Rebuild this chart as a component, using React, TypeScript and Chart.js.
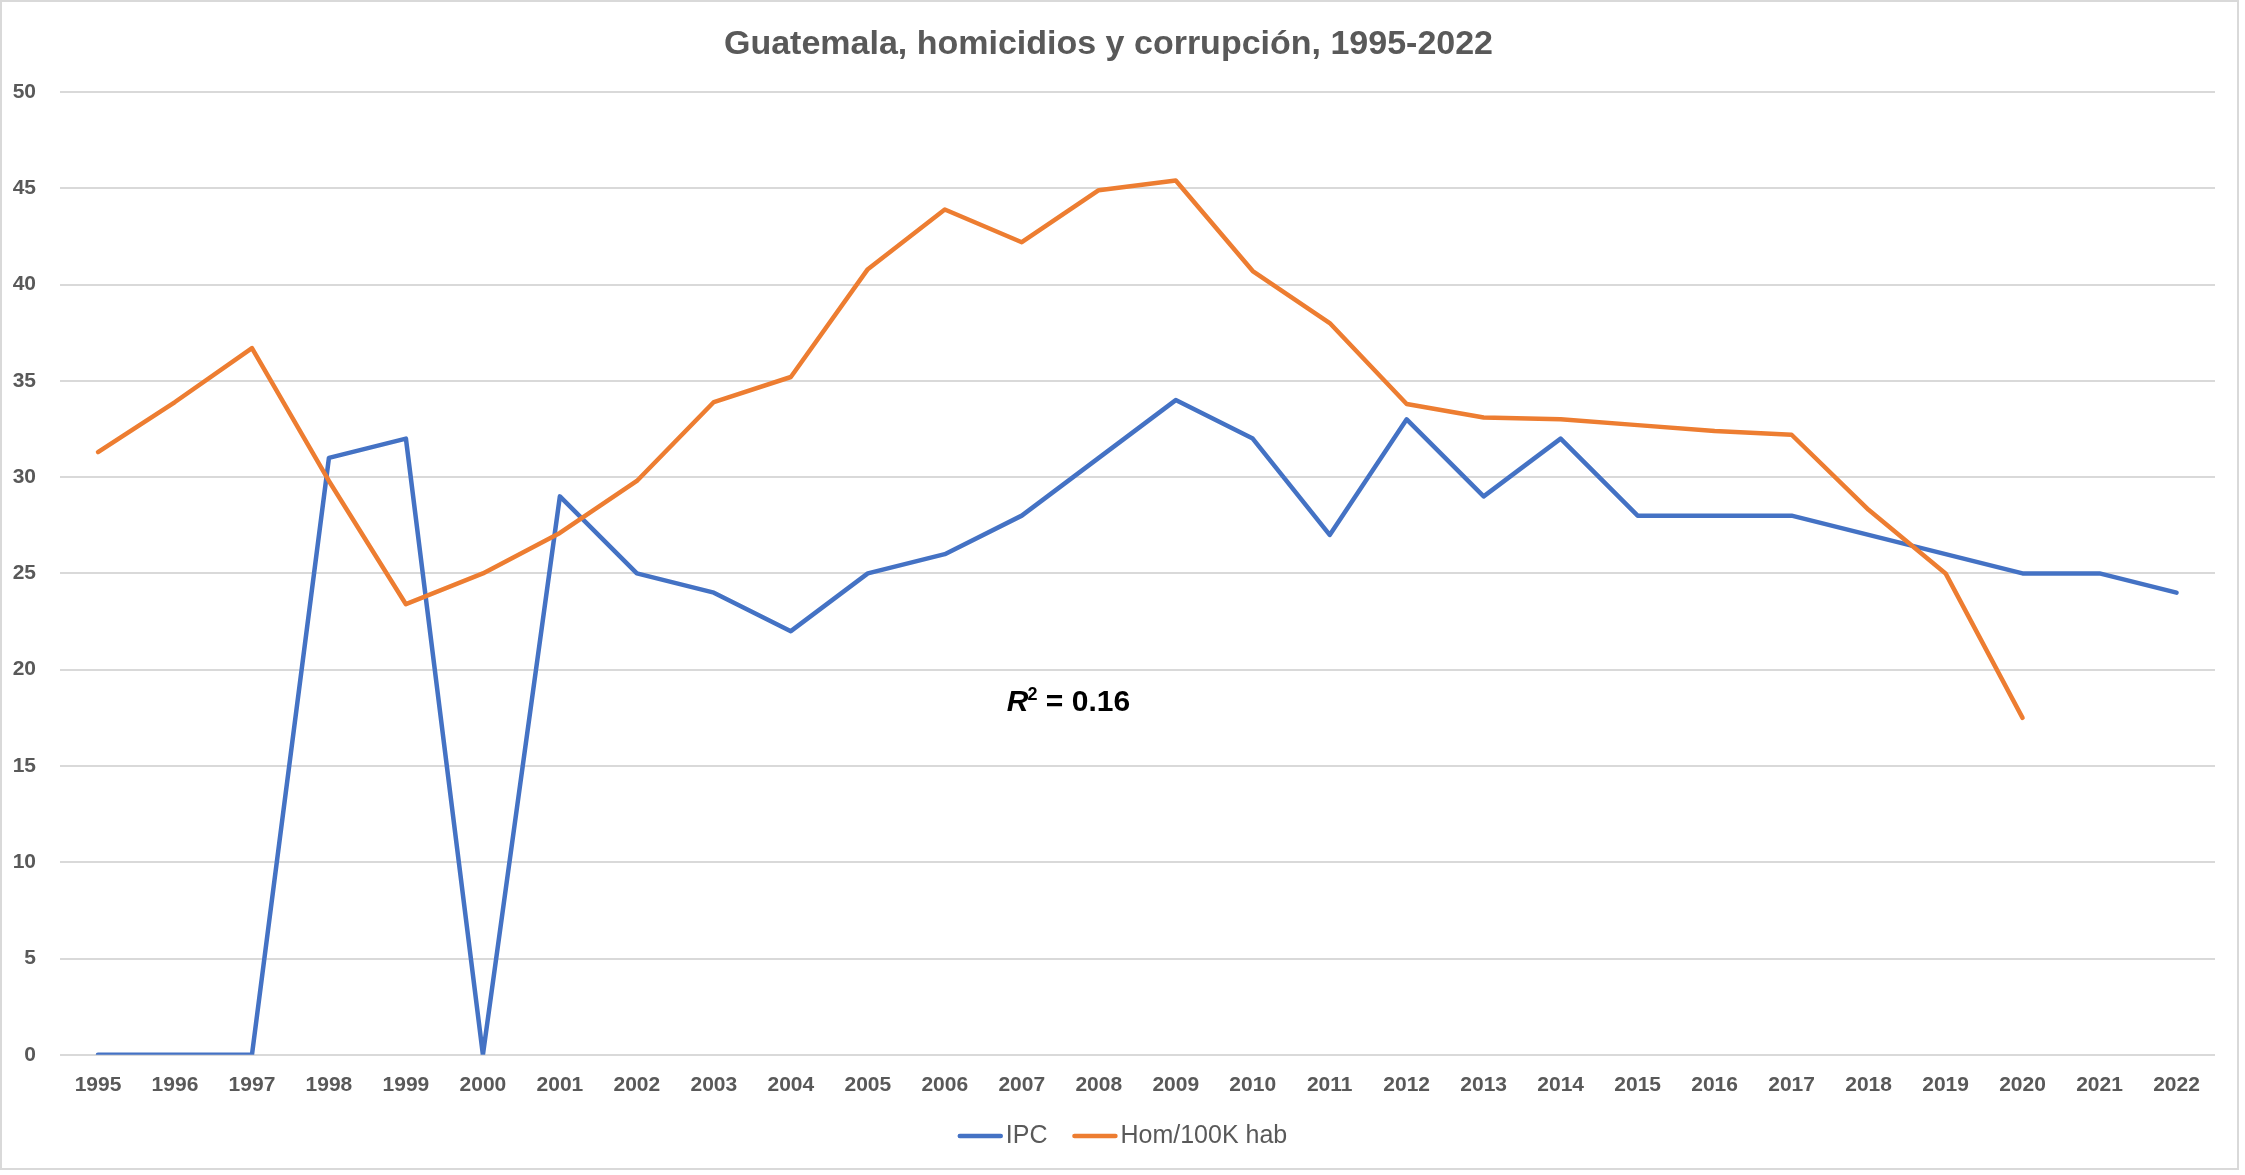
import { useEffect, useRef } from "react";
import { Chart, registerables } from "chart.js";

Chart.register(...registerables);

// Years on the category axis
const years = [
  "1995", "1996", "1997", "1998", "1999", "2000", "2001", "2002", "2003", "2004",
  "2005", "2006", "2007", "2008", "2009", "2010", "2011", "2012", "2013", "2014",
  "2015", "2016", "2017", "2018", "2019", "2020", "2021", "2022",
];

// Índice de Percepción de la Corrupción (escala 0-100)
const ipc = [
  0, 0, 0, 31, 32, 0, 29, 25, 24, 22,
  25, 26, 28, 31, 34, 32, 27, 33, 29, 32,
  28, 28, 28, 27, 26, 25, 25, 24,
];

// Homicidios por cada 100 mil habitantes
const homicidios = [
  31.3, 33.9, 36.7, 29.8, 23.4, 25.0, 27.1, 29.8, 33.9, 35.2,
  40.8, 43.9, 42.2, 44.9, 45.4, 40.7, 38.0, 33.8, 33.1, 33.0,
  32.7, 32.4, 32.2, 28.3, 25.0, 17.5, null, null,
];

const seriesNames = ["IPC", "Hom/100K hab"];
const seriesColors = ["#4472C4", "#ED7D31"];

const yMin = 0;
const yMax = 50;
const yStep = 5;

const titleText = "Guatemala, homicidios y corrupción, 1995-2022";
const r2Text = "0.16";

const SANS = '"Liberation Sans", Arial, sans-serif';
const TEXT_GREY = "#595959";
const GRID_GREY = "#D9D9D9";

// Draws the R² note and the line-style legend under the axis
const overlayPlugin = {
  id: "overlay",
  afterDraw(chart: any) {
    const { ctx, chartArea } = chart;
    const yScale = chart.scales.y;
    ctx.save();

    // R² = 0.16
    const baseY = yScale.getPixelForValue(17.85);
    let x = chartArea.left + (chartArea.right - chartArea.left) * 0.4395;
    ctx.fillStyle = "#000000";
    ctx.textBaseline = "alphabetic";
    ctx.textAlign = "left";
    ctx.font = `italic bold 30px ${SANS}`;
    ctx.fillText("R", x, baseY);
    x += ctx.measureText("R").width - 1;
    ctx.font = `bold 18px ${SANS}`;
    ctx.fillText("2", x, baseY - 11);
    x += ctx.measureText("2").width;
    ctx.font = `bold 30px ${SANS}`;
    ctx.fillText(" = " + r2Text, x, baseY);

    // Legend
    const lineW = 45;
    const gapText = 3;
    const gapItem = 25;
    ctx.font = `25px ${SANS}`;
    const items = chart.data.datasets.map((ds: any) => ({
      label: ds.label as string,
      color: ds.borderColor as string,
      w: ctx.measureText(ds.label).width,
    }));
    const total =
      items.reduce((s: number, it: any) => s + lineW + gapText + it.w, 0) +
      gapItem * (items.length - 1);
    let lx = chart.width / 2 - total / 2 + 3;
    const ly = chart.height - 32;
    ctx.textBaseline = "middle";
    items.forEach((it: any) => {
      ctx.strokeStyle = it.color;
      ctx.lineWidth = 4.5;
      ctx.lineCap = "round";
      ctx.beginPath();
      ctx.moveTo(lx + 2, ly);
      ctx.lineTo(lx + lineW - 2, ly);
      ctx.stroke();
      lx += lineW + gapText;
      ctx.fillStyle = TEXT_GREY;
      ctx.fillText(it.label, lx, ly);
      lx += it.w + gapItem;
    });

    ctx.restore();
  },
};

export default function App() {
  const canvasRef = useRef<HTMLCanvasElement | null>(null);

  useEffect(() => {
    document.body.style.margin = "0";
    const canvas = canvasRef.current;
    if (!canvas) return;

    const chart = new Chart(canvas, {
      type: "line",
      data: {
        labels: years,
        datasets: [
          {
            label: seriesNames[0],
            data: ipc,
            borderColor: seriesColors[0],
            backgroundColor: seriesColors[0],
            borderWidth: 4.5,
            pointRadius: 0,
            tension: 0,
            borderJoinStyle: "round",
            borderCapStyle: "round",
            order: 1,
          },
          {
            label: seriesNames[1],
            data: homicidios,
            borderColor: seriesColors[1],
            backgroundColor: seriesColors[1],
            borderWidth: 4.5,
            pointRadius: 0,
            tension: 0,
            borderJoinStyle: "round",
            borderCapStyle: "round",
            spanGaps: false,
            order: 0,
          },
        ],
      },
      options: {
        animation: false,
        responsive: true,
        maintainAspectRatio: false,
        layout: { padding: { left: 0, right: 22, top: 0, bottom: 51.8 } },
        plugins: {
          legend: { display: false },
          tooltip: { enabled: false },
          title: {
            display: true,
            text: titleText,
            color: TEXT_GREY,
            font: { family: SANS, size: 34, weight: "bold", lineHeight: 1.2 },
            padding: { top: 22.6, bottom: 26.6 },
          },
        },
        scales: {
          x: {
            offset: true,
            grid: { display: false, drawTicks: false },
            border: { display: false },
            ticks: {
              color: TEXT_GREY,
              font: { family: SANS, size: 21, weight: "bold", lineHeight: 1.2 },
              padding: 18.1,
              maxRotation: 0,
              autoSkip: false,
            },
          },
          y: {
            min: yMin,
            max: yMax,
            grid: { color: GRID_GREY, lineWidth: 2, drawTicks: false },
            border: { display: false },
            ticks: {
              stepSize: yStep,
              color: TEXT_GREY,
              font: { family: SANS, size: 21, weight: "bold", lineHeight: 1.2 },
              padding: 23.5,
            },
            afterFit(scale: any) {
              scale.width = 57.5;
            },
          },
        },
      },
      plugins: [overlayPlugin],
    });

    return () => chart.destroy();
  }, []);

  return (
    <div
      style={{
        width: 2239,
        height: 1170,
        border: `2px solid ${GRID_GREY}`,
        boxSizing: "border-box",
        position: "relative",
        background: "#ffffff",
      }}
    >
      <div style={{ position: "absolute", left: 0, top: 0, right: 0, bottom: 0 }}>
        <canvas ref={canvasRef} />
      </div>
    </div>
  );
}
